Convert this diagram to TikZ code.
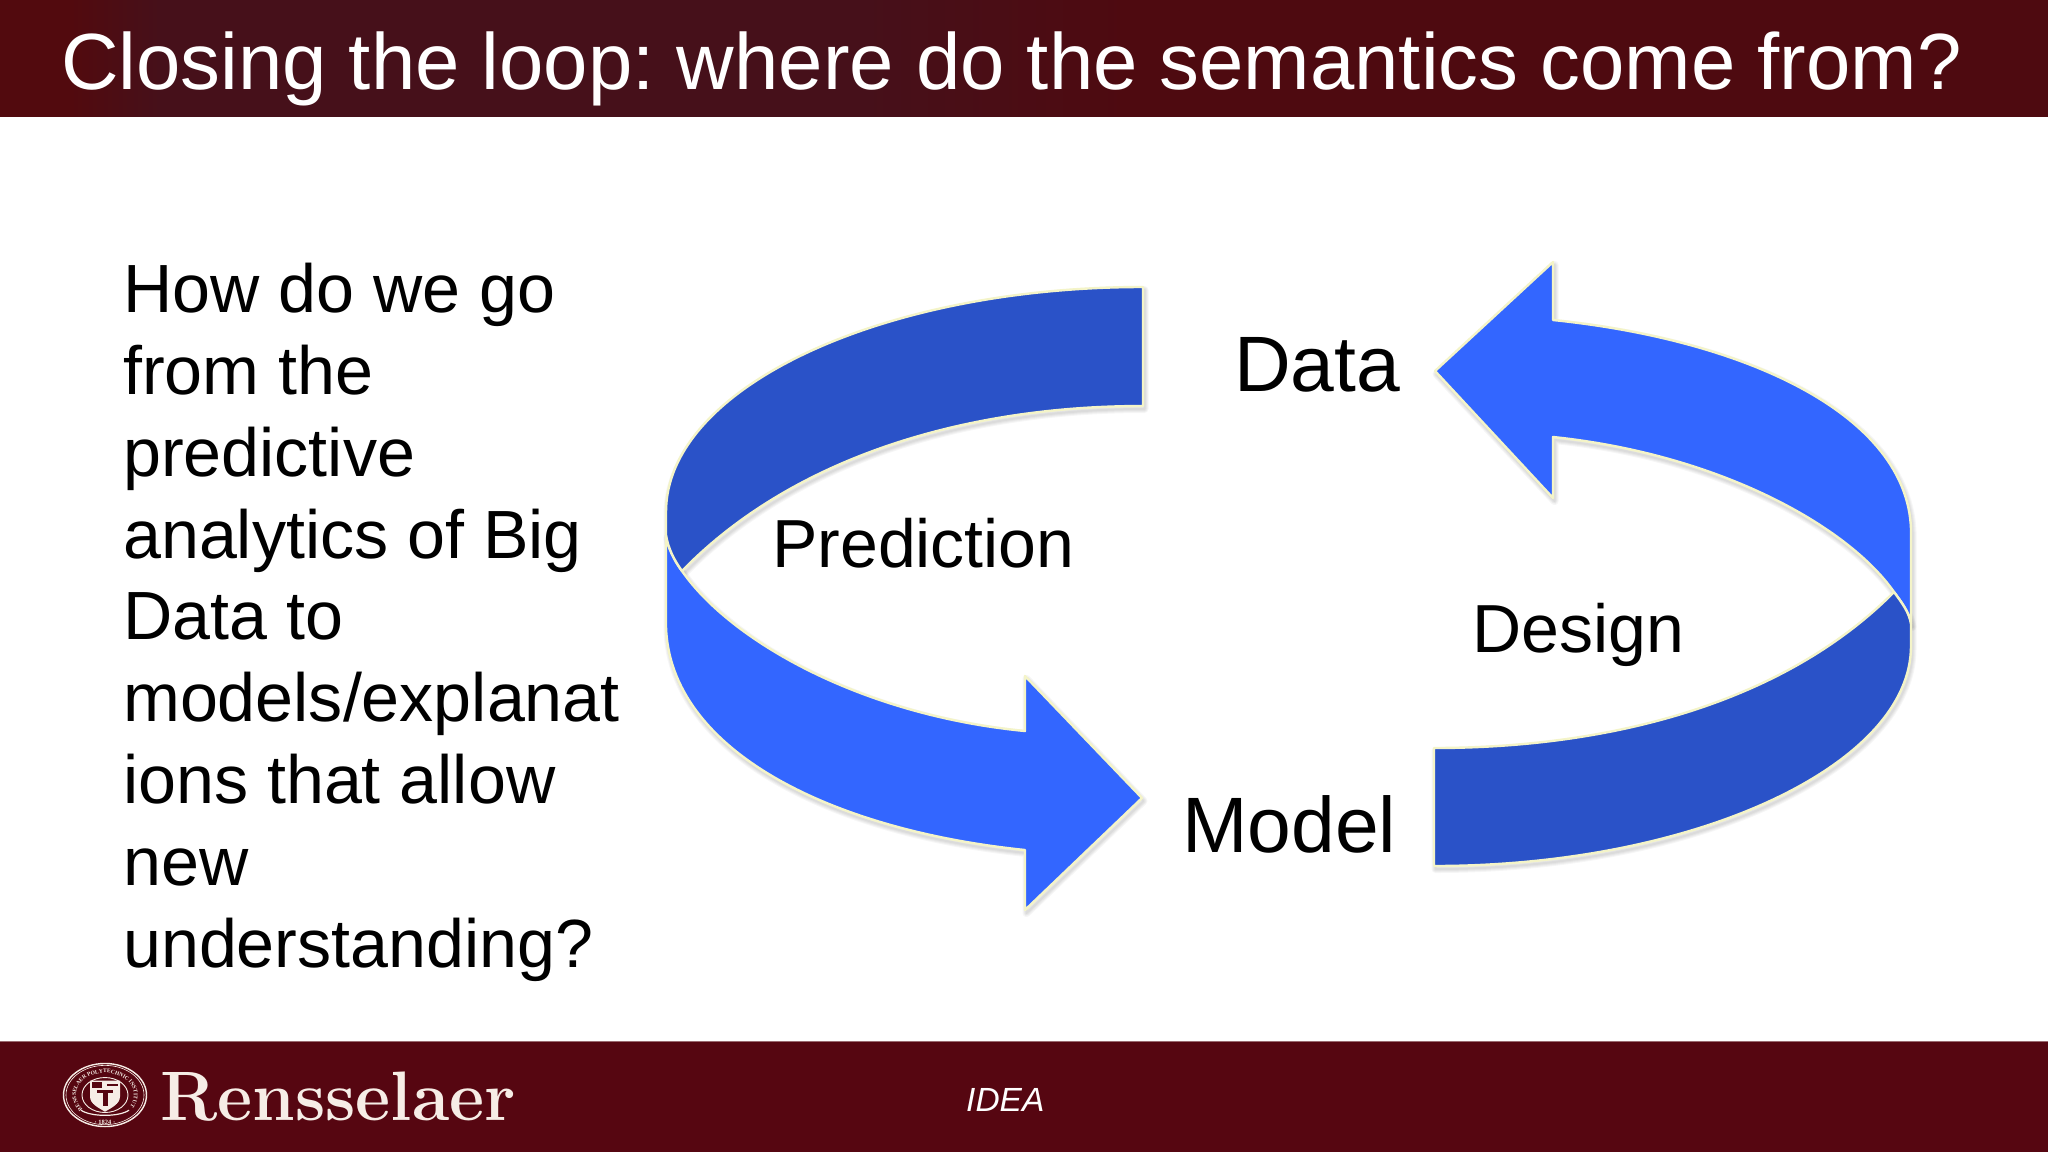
\documentclass[tikz,border=0pt]{standalone}
\usepackage{graphicx}
\usepackage{fontspec}
\setmainfont{Liberation Sans}
\newfontfamily\logofont{Latin Modern Roman}
\newfontfamily\sealfont{Liberation Serif}
\usetikzlibrary{decorations.text}
\definecolor{barmaroon}{HTML}{560611}
\definecolor{titleedge}{HTML}{520A0E}
\definecolor{titlemid}{HTML}{46101A}
\definecolor{titleright}{HTML}{4E0A10}
\definecolor{ribbonlight}{HTML}{3366FF}
\definecolor{ribbondark}{HTML}{2A52C8}
\definecolor{ribbonedge}{HTML}{F4F4C8}
\definecolor{sealcream}{HTML}{F6EDE6}
\tikzset{
  x=1pt,y=-1pt,
  ribbon/.style={draw=ribbonedge,line width=2.4pt,line join=round},
  shadowline/.style={draw=black,draw opacity=.035,line join=round,fill=none},
  bodytext/.style={font=\fontsize{68.2}{81.8}\selectfont,text=black,inner sep=0pt},
  bigword/.style={font=\fontsize{78.6}{90}\selectfont,text=black,inner sep=0pt,anchor=base west},
  midword/.style={font=\fontsize{68}{80}\selectfont,text=black,inner sep=0pt,anchor=base west},
}
\newcommand{\leftlight}{(666,535) -- (666,627) .. controls (670,750) and (830,830) .. (1025,850)
  -- (1025,910) -- (1142,798) -- (1025,676) -- (1025,731)
  .. controls (860,715) and (730,640) .. (682,571) .. controls (674,560) and (668,548) .. cycle}
\newcommand{\leftdark}{(1143,287) .. controls (881,287) and (666,388) .. (666,512) -- (666,535)
  .. controls (668,548) and (674,560) .. (682,571) .. controls (790,460) and (960,406) .. (1143,406) -- cycle}
\newcommand{\rightlight}{(1911,624) -- (1911,529) .. controls (1907,415) and (1747,340) .. (1553,320)
  -- (1553,262) -- (1435,371) -- (1553,498) -- (1553,437)
  .. controls (1717,454) and (1847,525) .. (1894,592) .. controls (1902,603) and (1909,612) .. cycle}
\newcommand{\rightdark}{(1434,866) .. controls (1696,866) and (1911,765) .. (1911,646) -- (1911,624)
  .. controls (1909,612) and (1902,603) .. (1894,592) .. controls (1787,700) and (1617,748) .. (1434,748) -- cycle}
\begin{document}
\begin{tikzpicture}
\useasboundingbox (0,0) rectangle (2048,1152);
\fill[white] (0,0) rectangle (2048,1152);
\fill[titleright] (0,0) rectangle (2048,116.5);
\fill[titleedge] (0,0) rectangle (70,116.5);
\shade[left color=titleedge,right color=titlemid] (70,0) rectangle (160,116.5);
\fill[titlemid] (160,0) rectangle (860,116.5);
\shade[left color=titlemid,right color=titleright] (860,0) rectangle (1130,116.5);
\fill[barmaroon] (0,1041) rectangle (2048,1152);
\draw[color=barmaroon!60!white,line width=1pt] (0,1041) -- (2048,1041);

\node[font=\frenchspacing\fontsize{79.7}{90}\selectfont,text=white,inner sep=0pt,anchor=base west] (title) at (61,89.5)
  {Closing the loop: where do the semantics come from?};

\node[bodytext,align=left,anchor=north west] (question) at (123,263)
  {How do we go\\from the\\predictive\\analytics of Big\\Data to\\models/explanat\\ions that allow\\new\\understanding?};

\foreach \r in {1,...,4}{
  \begin{scope}[shift={(1.5,3)}]
    \draw[shadowline,line width=\r*2pt] \leftdark;
    \draw[shadowline,line width=\r*2pt] \leftlight;
    \draw[shadowline,line width=\r*2pt] \rightdark;
    \draw[shadowline,line width=\r*2pt] \rightlight;
  \end{scope}
}
\path[ribbon,fill=ribbonlight] \leftlight;
\path[ribbon,fill=ribbondark] \leftdark;
\path[ribbon,fill=ribbonlight] \rightlight;
\path[ribbon,fill=ribbondark] \rightdark;

\node[bigword] (data) at (1234,391) {Data};
\node[bigword] (model) at (1182,852) {Model};
\node[midword] (prediction) at (772,567) {Prediction};
\node[midword] (design) at (1472,652) {Design};

% footer
\node[font=\fontsize{33.5}{38}\selectfont\itshape,text=white,inner sep=0pt,anchor=base west] (idea) at (966,1111) {IDEA};
\node[font=\logofont\bfseries\fontsize{70}{80}\selectfont,text=sealcream,inner sep=0pt,anchor=base west] (wordmark) at (160,1120) {\scalebox{.975}[1]{Rensselaer}};

% seal, flattened as in the slide
\begin{scope}[shift={(105,1095)},x=1pt,y=.76pt]
  \draw[sealcream,line width=1.4pt] (0,0) circle (41.5);
  \draw[sealcream,line width=.6pt] (0,0) circle (39);
  \draw[sealcream,line width=.9pt] (0,0) circle (23);
  \path[decorate,decoration={text along path,text align=center,
    text={|\sealfont\bfseries\fontsize{5.6}{6}\selectfont\color{sealcream}|RENSSELAER POLYTECHNIC INSTITUTE}}]
    (212:29) arc[start angle=212,end angle=-32,radius=29];
  \fill[sealcream] (-15,19) -- (15,19) -- (15,-2) .. controls (15,-12) and (6,-17) .. (0,-22)
    .. controls (-6,-17) and (-15,-12) .. (-15,-2) -- cycle;
  \fill[barmaroon] (-13,17) rectangle (-3,9);
  \fill[barmaroon] (2,15) rectangle (13,12);
  \fill[barmaroon] (-8,6) rectangle (8,3);
  \fill[barmaroon] (-2.5,6) rectangle (2.5,-15);
  \draw[sealcream,line width=1.2pt] (-24,-20) .. controls (-14,-29) and (14,-29) .. (24,-20);
\end{scope}
\node[font=\sealfont\bfseries\fontsize{6.5}{7}\selectfont,text=sealcream,inner sep=0pt] (year) at (105,1122.5) {· 1824 ·};
\end{tikzpicture}
\end{document}
